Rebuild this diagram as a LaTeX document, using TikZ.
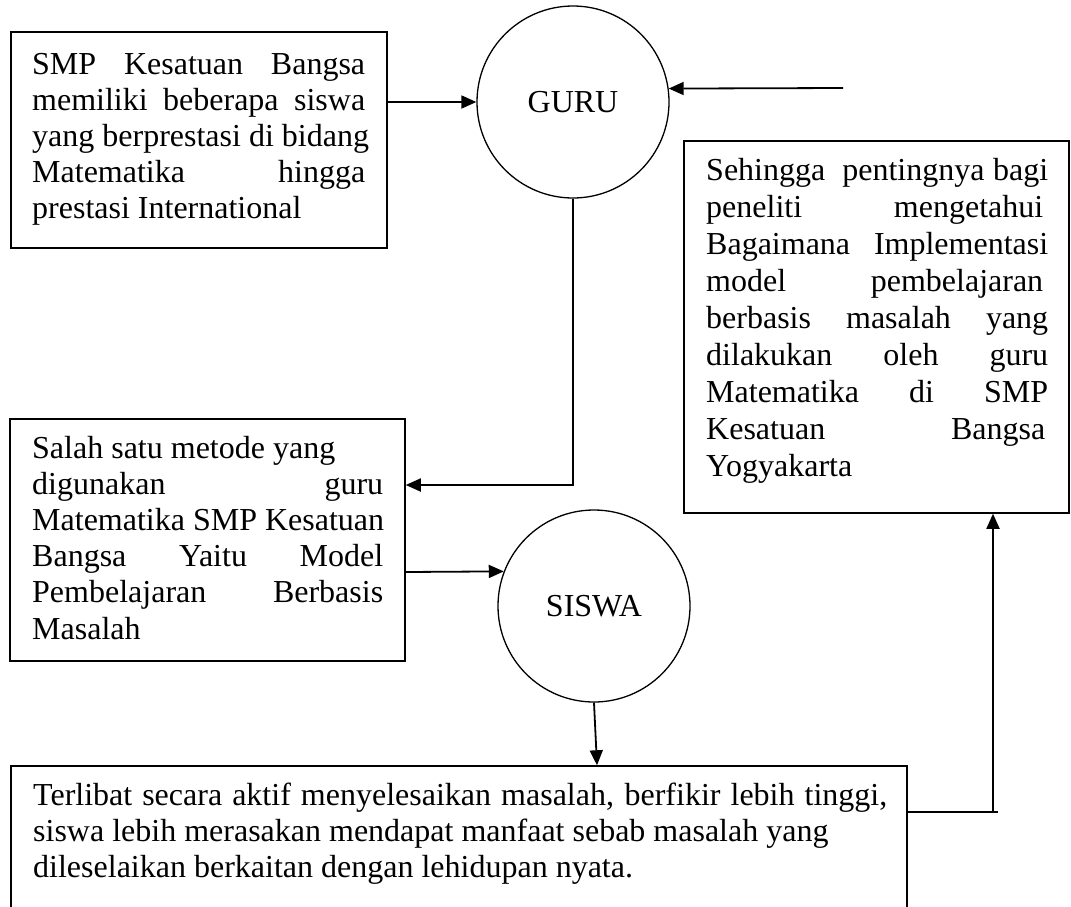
\documentclass[tikz,border=0pt]{standalone}
\usepackage{fontspec}
\setmainfont{Liberation Serif}
\usetikzlibrary{arrows.meta}
\tikzset{
  boxnode/.style={draw, line width=1.5pt, rectangle, inner sep=0pt},
  circ/.style={draw, circle, line width=1.3pt, minimum size=192pt, inner sep=0pt, font=\fontsize{32}{36}\selectfont},
  txt/.style={anchor=base west, inner sep=0pt, font=\fontsize{32}{36}\selectfont},
  arr/.style={line width=1.8pt, -{Triangle[length=15pt,width=13pt]}},
  ln/.style={line width=1.8pt},
}
\newcommand{\jl}[2]{\hbox to #1{#2}}
\begin{document}
\begin{tikzpicture}[x=1pt,y=-1pt]
\useasboundingbox (0,0) rectangle (1071,906);
\clip (0,0) rectangle (1071,906);
\fill[white] (0,0) rectangle (1071,906);

% box 1
\node[boxnode, minimum width=376pt, minimum height=216pt] (b1) at (199,140) {};
\node[txt] (t1) at (32,74) {\vtop{\baselineskip=36pt
  \jl{333pt}{SMP Kesatuan Bangsa}
  \jl{333pt}{memiliki beberapa siswa}
  \hbox{yang berprestasi di bidang}
  \jl{333pt}{Matematika hingga}
  \hbox{prestasi International}}};

% circles
\node[circ] (guru) at (573,102) {GURU};
\node[circ] (siswa) at (594,606) {SISWA};

% box 2
\node[boxnode, minimum width=395pt, minimum height=242pt] (b2) at (207.5,540) {};
\node[txt] (t2) at (32,458) {\vtop{\baselineskip=36.2pt
  \hbox{Salah satu metode yang}
  \jl{351pt}{digunakan guru}
  \hbox{Matematika SMP Kesatuan}
  \jl{351pt}{Bangsa Yaitu Model}
  \jl{351pt}{Pembelajaran Berbasis}
  \hbox{Masalah}}};

% right box
\node[boxnode, minimum width=385pt, minimum height=372pt] (rb) at (876.5,327) {};
\node[txt] (t3) at (706,180) {\vtop{\baselineskip=37.1pt
  \jl{342pt}{Sehingga\ \ pentingnya bagi}
  \jl{337pt}{peneliti mengetahui}
  \jl{342pt}{Bagaimana Implementasi}
  \jl{337pt}{model pembelajaran}
  \jl{342pt}{berbasis masalah yang}
  \jl{342pt}{dilakukan oleh guru}
  \jl{342pt}{Matematika di SMP}
  \jl{339pt}{Kesatuan Bangsa}
  \hbox{Yogyakarta}}};

% bottom box
\node[boxnode, minimum width=896pt, minimum height=164pt] (bb) at (459,848) {};
\node[txt] (t4) at (33,805) {\vtop{\baselineskip=36pt
  \jl{854pt}{Terlibat secara aktif menyelesaikan masalah, berfikir lebih tinggi,}
  \hbox{siswa lebih merasakan mendapat manfaat sebab\ masalah\ yang}
  \hbox{dileselaikan berkaitan dengan lehidupan nyata.}}};

% connectors
\coordinate (in1) at (843,88);
\coordinate (c) at (993,812);
\draw[arr] (b1.east |- guru.west) -- (guru.west);
\draw[arr] (in1) -- (guru.8.4);
\draw[arr] (guru.south) |- ([yshift=55pt]b2.east);
\draw[arr] ([yshift=-32pt]b2.east) -- (siswa.159);
\draw[arr] (siswa.south) -- ([xshift=3pt]siswa.south |- bb.north);
\draw[ln] (c -| bb.east) -- ([xshift=5pt]c);
\draw[arr] (c) -- (c |- rb.south);
\end{tikzpicture}
\end{document}
